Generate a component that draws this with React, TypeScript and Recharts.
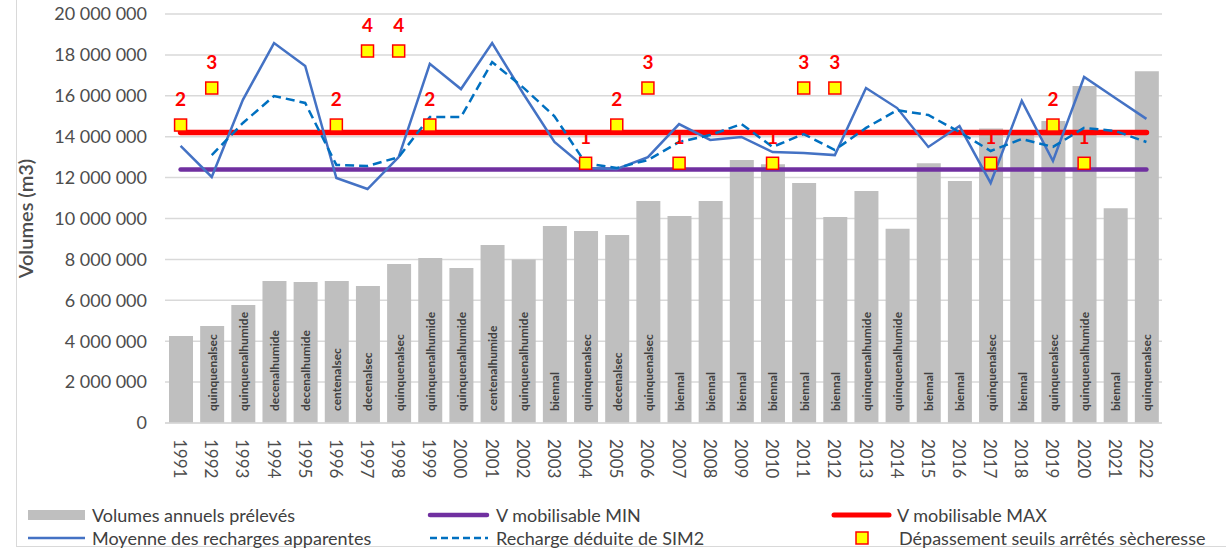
import {
  ComposedChart,
  Bar,
  Line,
  XAxis,
  YAxis,
  CartesianGrid,
  LabelList,
  Label,
} from "recharts";

const FONT = "Lato, 'Open Sans', sans-serif";

const years = [
  "1991", "1992", "1993", "1994", "1995", "1996", "1997", "1998",
  "1999", "2000", "2001", "2002", "2003", "2004", "2005", "2006",
  "2007", "2008", "2009", "2010", "2011", "2012", "2013", "2014",
  "2015", "2016", "2017", "2018", "2019", "2020", "2021", "2022",
];

// volumes annuels prélevés (m3)
const volumes = [
  4250000, 4740000, 5770000, 6940000, 6900000, 6940000, 6700000, 7770000,
  8070000, 7580000, 8700000, 8000000, 9630000, 9390000, 9190000, 10860000,
  10120000, 10860000, 12860000, 12650000, 11740000, 10070000, 11340000, 9500000,
  12700000, 11830000, 14400000, 14200000, 14770000, 16480000, 10500000, 17200000,
];

// type d'année affiché dans les barres
const typeAnnee = [
  "", "quinquenalsec", "quinquenalhumide", "decenalhumide", "decenalhumide",
  "centenalsec", "decenalsec", "quinquenalsec", "quinquenalhumide", "quinquenalhumide",
  "centenalhumide", "quinquenalhumide", "biennal", "quinquenalsec", "decenalsec",
  "quinquenalsec", "biennal", "biennal", "biennal", "biennal", "biennal", "biennal",
  "quinquenalhumide", "quinquenalhumide", "biennal", "biennal", "quinquenalsec",
  "biennal", "quinquenalsec", "quinquenalhumide", "biennal", "quinquenalsec",
];

const vMobilisableMin = 12400000;
const vMobilisableMax = 14200000;

const moyenneRecharges = [
  13550000, 12030000, 15800000, 18580000, 17460000, 11980000, 11440000, 13000000,
  17560000, 16330000, 18580000, 16100000, 13740000, 12470000, 12420000, 13000000,
  14620000, 13840000, 13990000, 13250000, 13200000, 13100000, 16380000, 15400000,
  13500000, 14520000, 11740000, 15750000, 12810000, 16920000, 15890000, 14870000,
];

const rechargeSim2 = [
  null, 13100000, 14670000, 15990000, 15650000, 12620000, 12570000, 13000000,
  14960000, 14960000, 17650000, 16400000, 15000000, 12700000, 12470000, 12860000,
  13740000, 14080000, 14620000, 13500000, 14130000, 13350000, 14430000, 15300000,
  15060000, 14230000, 13300000, 13890000, 13500000, 14430000, 14280000, 13740000,
];

// nombre de dépassements de seuils d'arrêtés sècheresse
const depassements = [
  2, 3, null, null, null, 2, 4, 4, 2, null, null, null, null, 1, 2, 3,
  1, null, null, 1, 3, 3, null, null, null, null, 1, null, 2, 1, null, null,
];

const niveauxDepassement: Record<number, number> = {
  1: 12700000,
  2: 14570000,
  3: 16380000,
  4: 18190000,
};

const yTicks = [
  0, 2000000, 4000000, 6000000, 8000000, 10000000,
  12000000, 14000000, 16000000, 18000000, 20000000,
];

const data = years.map((year, i) => ({
  year,
  volume: volumes[i],
  typeAnnee: typeAnnee[i],
  vMin: vMobilisableMin,
  vMax: vMobilisableMax,
  moyenne: moyenneRecharges[i],
  sim2: rechargeSim2[i],
  seuil: depassements[i] == null ? null : niveauxDepassement[depassements[i] as number],
  seuilLabel: depassements[i],
}));

const fmt = (v: number) => v.toString().replace(/\B(?=(\d{3})+(?!\d))/g, " ");

const YearTick = (props: any) => {
  const { x, y, payload } = props;
  return (
    <text
      transform={`translate(${x},${y + 14}) rotate(90)`}
      textAnchor="start"
      dominantBaseline="central"
      fontSize={17}
      fontFamily={FONT}
      fill="#4d4d4d"
    >
      {payload.value}
    </text>
  );
};

const BarText = (props: any) => {
  const { x, y, width, height, value } = props;
  if (!value) return null;
  return (
    <text
      transform={`translate(${x + width / 2},${y + height - 12}) rotate(-90)`}
      textAnchor="start"
      dominantBaseline="central"
      fontSize={12}
      fontWeight={700}
      fontFamily={FONT}
      fill="#404040"
    >
      {value}
    </text>
  );
};

const SeuilText = (props: any) => {
  const { x, y, value } = props;
  if (value == null || y == null) return null;
  return (
    <text
      x={x}
      y={y - 27}
      textAnchor="middle"
      dominantBaseline="central"
      fontSize={19}
      fontWeight={700}
      fontFamily={FONT}
      fill="#ff0000"
    >
      {value}
    </text>
  );
};

const SeuilDot = (props: any) => {
  const { cx, cy, value, index } = props;
  if (value == null || cy == null) return <g key={`d${index}`} />;
  return (
    <rect
      key={`d${index}`}
      x={cx - 6}
      y={cy - 6}
      width={12}
      height={12}
      fill="#ffff00"
      stroke="#ff0000"
      strokeWidth={1.5}
    />
  );
};

const legendText: React.CSSProperties = {
  position: "absolute",
  fontSize: 18,
  color: "#404040",
  lineHeight: "20px",
  whiteSpace: "nowrap",
};

function Legend() {
  return (
    <>
      <svg
        style={{ position: "absolute", left: 0, top: 500, overflow: "visible" }}
        width={1226}
        height={50}
      >
        <rect x={28} y={10} width={57} height={10} fill="#bfbfbf" />
        <line x1={430} y1={15} x2={487} y2={15} stroke="#7030a0" strokeWidth={4.5} strokeLinecap="round" />
        <line x1={834} y1={15} x2={889} y2={15} stroke="#ff0000" strokeWidth={5} strokeLinecap="round" />
        <line x1={28} y1={38} x2={85} y2={38} stroke="#4472c4" strokeWidth={2.5} />
        <line x1={430} y1={38} x2={488} y2={38} stroke="#0070c0" strokeWidth={2.5} strokeDasharray="7 4" />
        <rect x={856} y={32} width={12} height={12} fill="#ffff00" stroke="#ff0000" strokeWidth={1.5} />
      </svg>
      <div style={{ ...legendText, left: 92, top: 505 }}>Volumes annuels prélevés</div>
      <div style={{ ...legendText, left: 496, top: 505 }}>V mobilisable MIN</div>
      <div style={{ ...legendText, left: 897, top: 505 }}>V mobilisable MAX</div>
      <div style={{ ...legendText, left: 92, top: 528 }}>Moyenne des recharges apparentes</div>
      <div style={{ ...legendText, left: 496, top: 528 }}>Recharge déduite de SIM2</div>
      <div style={{ ...legendText, left: 899, top: 528 }}>Dépassement seuils arrêtés sècheresse</div>
    </>
  );
}

export default function App() {
  return (
    <div
      style={{
        position: "absolute",
        left: 0,
        top: 0,
        width: 1226,
        height: 551,
        background: "#fff",
        overflow: "hidden",
        fontFamily: FONT,
      }}
    >
      <div
        style={{
          position: "absolute",
          left: 16,
          top: -2,
          width: 1240,
          height: 549,
          border: "1px solid #d9d9d9",
          boxSizing: "border-box",
        }}
      />
      <ComposedChart
        width={1226}
        height={551}
        data={data}
        margin={{ top: 14, right: 64, left: 0, bottom: 68 }}
        style={{ position: "absolute", left: 0, top: 0 }}
      >
        <CartesianGrid vertical={false} stroke="#d9d9d9" strokeWidth={1.5} />
        <XAxis
          dataKey="year"
          interval={0}
          height={60}
          tick={<YearTick />}
          tickLine={false}
          tickSize={0}
          axisLine={{ stroke: "#d9d9d9", strokeWidth: 1.5 }}
        />
        <YAxis
          width={165}
          domain={[0, 20000000]}
          ticks={yTicks}
          interval={0}
          tickFormatter={fmt}
          tickLine={false}
          axisLine={false}
          tickSize={0}
          tickMargin={18}
          tick={{ fontSize: 18, fill: "#4d4d4d", fontFamily: FONT }}
        >
          <Label
            value="Volumes (m3)"
            angle={-90}
            position="insideLeft"
            offset={26}
            style={{ fontSize: 20, fill: "#4d4d4d", fontFamily: FONT, textAnchor: "middle", fontWeight: 600 }}
          />
        </YAxis>
        <Bar dataKey="volume" fill="#bfbfbf" barSize={24} isAnimationActive={false}>
          <LabelList dataKey="typeAnnee" content={<BarText />} />
        </Bar>
        <Line
          dataKey="vMin"
          stroke="#7030a0"
          strokeWidth={4.5}
          strokeLinecap="round"
          dot={false}
          activeDot={false}
          isAnimationActive={false}
        />
        <Line
          dataKey="vMax"
          stroke="#ff0000"
          strokeWidth={5.5}
          strokeLinecap="round"
          dot={false}
          activeDot={false}
          isAnimationActive={false}
        />
        <Line
          dataKey="moyenne"
          stroke="#4472c4"
          strokeWidth={2.5}
          dot={false}
          activeDot={false}
          isAnimationActive={false}
        />
        <Line
          dataKey="sim2"
          stroke="#0070c0"
          strokeWidth={2.5}
          strokeDasharray="9 5"
          dot={false}
          activeDot={false}
          isAnimationActive={false}
        />
        <Line
          dataKey="seuil"
          stroke="none"
          dot={SeuilDot}
          activeDot={false}
          connectNulls={false}
          isAnimationActive={false}
        >
          <LabelList dataKey="seuilLabel" content={<SeuilText />} />
        </Line>
      </ComposedChart>
      <Legend />
    </div>
  );
}
